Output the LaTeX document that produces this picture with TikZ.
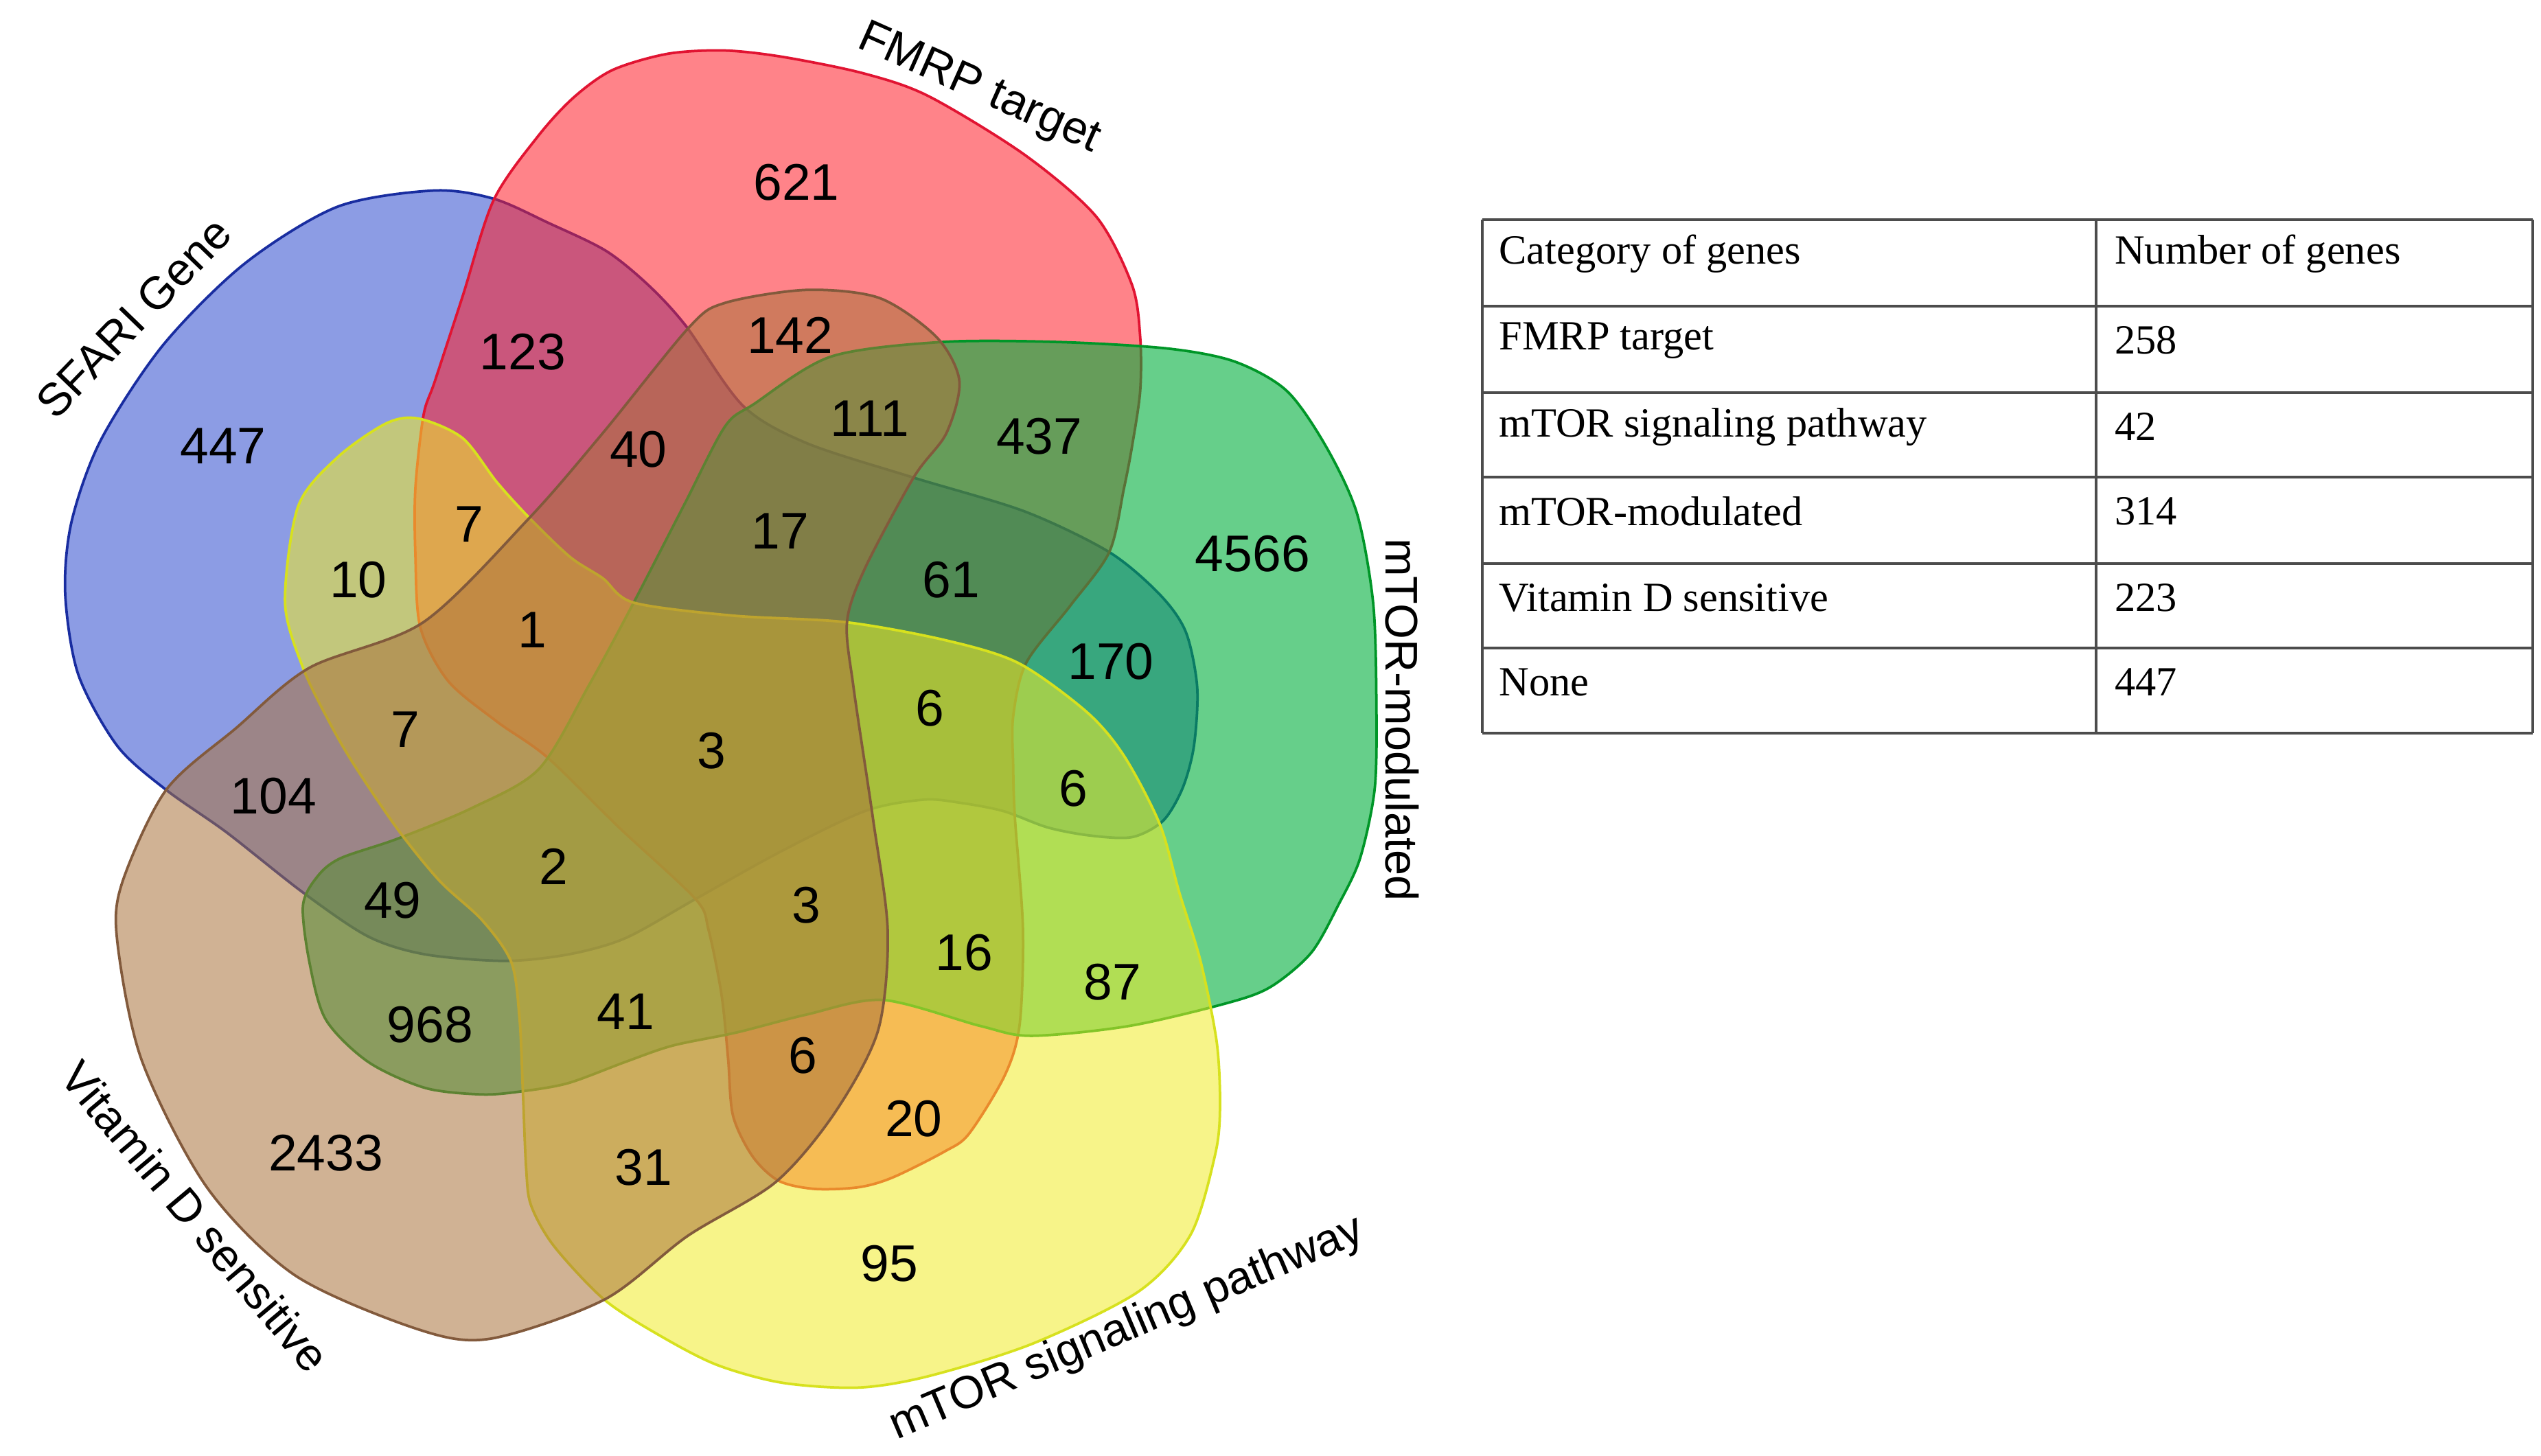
\documentclass[tikz,border=0pt]{standalone}
\usepackage{fontspec}
\setmainfont{Liberation Serif}
\newfontfamily\arialfont{Liberation Sans}
\usetikzlibrary{positioning}
\definecolor{sfariblue}{RGB}{45,75,205}
\definecolor{sfariedge}{RGB}{25,45,160}
\definecolor{fmrpred}{RGB}{255,30,40}
\definecolor{fmrpedge}{RGB}{225,20,50}
\definecolor{vitdbrown}{RGB}{170,115,60}
\definecolor{vitdedge}{RGB}{130,90,60}
\definecolor{modgreen}{RGB}{0,175,60}
\definecolor{modedge}{RGB}{0,150,40}
\definecolor{sigyellow}{RGB}{240,235,40}
\definecolor{sigedge}{RGB}{215,225,30}
\tikzset{
	setshape/.style 2 args={fill=#1, draw=#2, fill opacity=0.55, line width=0.9pt},
	num/.style={font=\arialfont\fontsize{18}{20}\selectfont, inner sep=0pt},
	setlabel/.style={font=\arialfont\fontsize{16}{18}\selectfont, inner sep=0pt},
	cell/.style={font=\fontsize{14.5}{16}\selectfont, inner sep=0pt, anchor=west},
	rule/.style={line width=1pt, draw=black!70},
}
\begin{document}
\begin{tikzpicture}[x=0.02cm, y=-0.02cm]
	\useasboundingbox (0,0) rectangle (1560,894);
	% SFARI Gene
	\filldraw[setshape={sfariblue}{sfariedge}] plot[smooth cycle, tension=0.5] coordinates {
		(266,117) (303,122) (337,137) (372,154) (398,175) (421,200) (456,249)
		(495,272) (560,293) (629,314) (681,339) (712,365) (728,388) (735,422)
		(733,458) (726,484) (714,504) (695,514) (669,513) (643,508) (616,498)
		(590,493) (567,491) (531,498) (479,523) (427,552) (384,576) (349,586)
		(310,590) (261,586) (226,575) (186,548) (139,511) (102,485) (72,458)
		(48,414) (40,364) (44,320) (62,270) (100,212) (150,162) (207,127)};
	% FMRP target
	\filldraw[setshape={fmrpred}{fmrpedge}] plot[smooth cycle, tension=0.5] coordinates {
		(445,31) (481,35) (530,45) (570,59) (629,95) (673,133) (695,175)
		(700,207) (700,240) (695,274) (690,300) (681,339) (657,372) (630,407)
		(622,440) (622,470) (623,501) (628,570) (626,629) (617,660) (595,696)
		(580,707) (548,723) (527,729) (500,730) (478,725) (462,710) (450,685)
		(447,650) (443,611) (435,571) (427,552) (380,508) (336,465) (305,443)
		(275,418) (258,385) (255,340) (255,300) (260,255) (267,234) (284,182)
		(303,123) (330,84) (352,60) (376,43) (410,33)};
	% mTOR-modulated
	\filldraw[setshape={modgreen}{modedge}, fill opacity=0.6] plot[smooth cycle, tension=0.5] coordinates {
		(463,248) (510,219) (578,210) (650,210) (717,214) (758,222) (790,240)
		(814,274) (833,315) (843,370) (845,431) (844,484) (835,527) (822,555)
		(805,585) (780,606) (753,616) (693,630) (633,636) (602,630) (542,614)
		(495,623) (452,634) (413,642) (384,652) (349,665) (321,670) (296,672)
		(261,668) (226,652) (200,626) (190,591) (186,556) (195,538) (209,527)
		(244,515) (290,496) (331,472) (362,420) (388,372) (420,310) (445,262)};
	% mTOR signaling pathway
	\filldraw[setshape={sigyellow}{sigedge}] plot[smooth cycle, tension=0.5] coordinates {
		(175,370) (183,311) (207,281) (237,260) (257,257) (284,269) (305,296)
		(325,318) (350,342) (370,355) (389,370) (450,378) (519,382) (580,393)
		(625,407) (667,437) (690,464) (712,506) (724,548) (737,590) (747,640)
		(749,680) (746,709) (731,758) (699,793) (634,825) (570,845) (527,852)
		(480,849) (440,838) (405,820) (371,798) (340,765) (326,740) (323,717)
		(321,670) (319,626) (314,591) (296,565) (270,541) (244,509) (217,469)
		(202,443) (186,410)};
	% Vitamin D sensitive
	\filldraw[setshape={vitdbrown}{vitdedge}] plot[smooth cycle, tension=0.5] coordinates {
		(495,178) (540,183) (575,207) (589,234) (581,266) (561,293) (531,349)
		(520,382) (524,422) (536,503) (545,572) (539,633) (512,684) (476,726)
		(422,759) (371,798) (301,822) (256,816) (181,783) (127,729) (87,651)
		(72,578) (75,542) (102,485) (145,447) (190,410) (260,382) (325,318)
		(370,266) (423,201) (445,186)};
	% set names
	\node[setlabel, rotate=46] (sfari) at (82,195) {SFARI Gene};
	\node[setlabel, rotate=-24] (fmrp) at (601,55) {FMRP target};
	\node[setlabel, rotate=-90] (mod) at (861,442) {mTOR-modulated};
	\node[setlabel, rotate=23] (sig) at (692,816) {mTOR signaling pathway};
	\node[setlabel, rotate=-50] (vitd) at (120,747) {Vitamin D sensitive};
	% counts
	\node[num] (n447) at (137,274) {447};
	\node[num] (n621) at (489,112) {621};
	\node[num] (n123) at (321,216) {123};
	\node[num] (n142) at (485,206) {142};
	\node[num] (n111) at (534,257) {111};
	\node[num] (n437) at (638,268) {437};
	\node[num] (n40) at (392,276) {40};
	\node[num] (n7a) at (288,322) {7};
	\node[num] (n10) at (220,356) {10};
	\node[num] (n17) at (479,326) {17};
	\node[num] (n61) at (584,356) {61};
	\node[num] (n4566) at (769,340) {4566};
	\node[num] (n170) at (682,406) {170};
	\node[num] (n1) at (327,387) {1};
	\node[num] (n7b) at (249,448) {7};
	\node[num] (n3a) at (437,461) {3};
	\node[num] (n6a) at (571,435) {6};
	\node[num] (n104) at (168,489) {104};
	\node[num] (n6b) at (659,484) {6};
	\node[num] (n2) at (340,532) {2};
	\node[num] (n49) at (241,553) {49};
	\node[num] (n3b) at (495,556) {3};
	\node[num] (n16) at (592,585) {16};
	\node[num] (n87) at (683,603) {87};
	\node[num] (n968) at (264,629) {968};
	\node[num] (n41) at (384,621) {41};
	\node[num] (n6c) at (493,648) {6};
	\node[num] (n20) at (561,687) {20};
	\node[num] (n2433) at (200,708) {2433};
	\node[num] (n31) at (395,717) {31};
	\node[num] (n95) at (546,776) {95};
	% table
	\foreach \y in {135,188,241,293,346,398,450}
		\draw[rule] (910,\y) -- (1555,\y);
	\foreach \x in {910,1287,1555}
		\draw[rule] (\x,135) -- (\x,450);
	\node[cell] (h1) at (920,156) {Category of genes};
	\node[cell] (h2) at (1298,156) {Number of genes};
	\node[cell] (r1a) at (920,209) {FMRP target};
	\node[cell] (r1b) at (1298,209) {258};
	\node[cell] (r2a) at (920,262) {mTOR signaling pathway};
	\node[cell] (r2b) at (1298,262) {42};
	\node[cell] (r3a) at (920,314) {mTOR-modulated};
	\node[cell] (r3b) at (1298,314) {314};
	\node[cell] (r4a) at (920,367) {Vitamin D sensitive};
	\node[cell] (r4b) at (1298,367) {223};
	\node[cell] (r5a) at (920,419) {None};
	\node[cell] (r5b) at (1298,419) {447};
\end{tikzpicture}
\end{document}
